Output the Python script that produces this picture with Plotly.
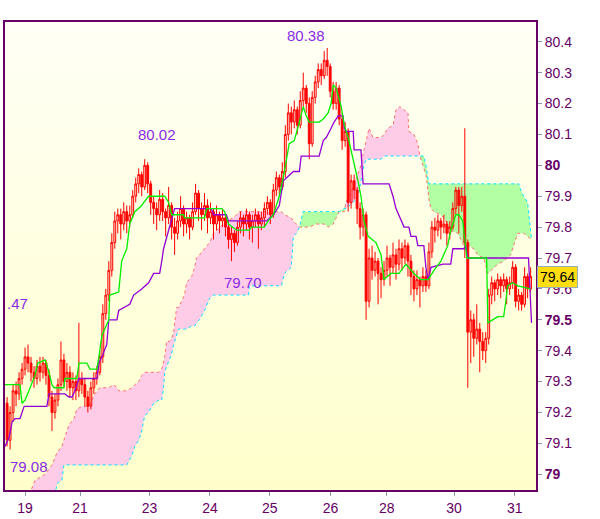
import plotly.graph_objects as go

# ---------------- price bars (one per bar index) ----------------
opens = [79.23,79.11,79.20,79.27,79.26,79.31,79.34,79.38,79.36,79.33,
         79.31,79.35,79.33,79.36,79.32,79.25,79.20,79.24,79.29,79.37,
         79.30,79.33,79.28,79.30,79.27,79.31,79.29,79.25,79.22,79.28,
         79.31,79.33,79.38,79.52,79.58,79.66,79.75,79.82,79.84,79.81,
         79.85,79.82,79.84,79.90,79.94,79.97,79.93,80.00,79.94,79.88,
         79.86,79.84,79.89,79.85,79.83,79.87,79.80,79.78,79.82,79.86,
         79.81,79.83,79.80,79.85,79.91,79.86,79.84,79.87,79.83,79.85,
         79.81,79.84,79.82,79.83,79.80,79.76,79.78,79.75,79.80,79.83,
         79.81,79.84,79.80,79.82,79.84,79.81,79.83,79.86,79.88,79.84,
         79.92,79.96,79.93,79.98,80.10,80.17,80.14,80.18,80.13,80.21,
         80.25,80.20,80.07,80.22,80.27,80.31,80.29,80.34,80.32,80.24,
         80.20,80.25,80.15,80.08,80.11,79.88,79.95,79.92,79.86,79.80,
         79.84,79.56,79.70,79.66,79.69,79.65,79.63,79.66,79.70,79.67,
         79.71,79.68,79.73,79.70,79.74,79.69,79.64,79.60,79.63,79.61,
         79.64,79.61,79.72,79.80,79.79,79.82,79.80,79.81,79.78,79.80,
         79.86,79.92,79.87,79.90,79.75,79.46,79.50,79.44,79.47,79.43,
         79.40,79.44,79.58,79.62,79.60,79.63,79.61,79.63,79.60,79.62,
         79.67,79.56,79.58,79.55,79.64,79.60]
highs = [79.25,79.22,79.29,79.30,79.33,79.36,79.41,79.42,79.38,79.35,
         79.37,79.38,79.38,79.37,79.34,79.27,79.26,79.31,79.43,79.39,
         79.36,79.35,79.33,79.32,79.49,79.33,79.31,79.27,79.30,79.33,
         79.35,79.40,79.55,79.60,79.69,79.78,79.85,79.86,79.86,79.88,
         79.87,79.87,79.92,79.96,79.99,79.98,80.02,80.01,79.95,79.90,
         79.88,79.92,79.91,79.86,79.93,79.88,79.83,79.85,79.90,79.87,
         79.85,79.84,79.88,79.94,79.92,79.88,79.91,79.89,79.88,79.86,
         79.87,79.85,79.86,79.84,79.82,79.80,79.79,79.82,79.85,79.84,
         79.86,79.85,79.84,79.86,79.85,79.85,79.88,79.90,79.89,79.94,
         79.98,79.97,80.01,80.13,80.20,80.19,80.21,80.19,80.24,80.30,
         80.26,80.22,80.24,80.29,80.33,80.33,80.37,80.38,80.33,80.27,
         80.27,80.26,80.17,80.14,80.12,79.97,79.97,79.93,79.88,79.86,
         79.85,79.73,79.74,79.72,79.70,79.67,79.69,79.74,79.71,79.75,
         79.73,79.76,79.75,79.76,79.75,79.71,79.66,79.66,79.64,79.67,
         79.66,79.75,79.82,79.83,79.84,79.83,79.84,79.82,79.82,79.88,
         79.93,79.93,79.93,80.12,79.76,79.53,79.52,79.55,79.49,79.46,
         79.46,79.60,79.64,79.63,79.65,79.64,79.65,79.64,79.64,79.69,
         79.68,79.60,79.59,79.67,79.65,79.67]
lows = [79.09,79.08,79.17,79.22,79.24,79.29,79.32,79.33,79.30,79.28,
        79.29,79.30,79.31,79.29,79.22,79.14,79.18,79.22,79.27,79.28,
        79.27,79.25,79.24,79.24,79.25,79.26,79.22,79.20,79.21,79.26,
        79.29,79.32,79.36,79.50,79.56,79.64,79.73,79.78,79.76,79.79,
        79.78,79.80,79.83,79.88,79.91,79.90,79.92,79.91,79.84,79.81,
        79.79,79.82,79.82,79.77,79.81,79.76,79.71,79.76,79.80,79.77,
        79.78,79.76,79.79,79.84,79.82,79.79,79.82,79.78,79.81,79.76,
        79.79,79.78,79.80,79.77,79.73,79.69,79.72,79.74,79.78,79.77,
        79.79,79.76,79.75,79.80,79.73,79.79,79.80,79.84,79.81,79.83,
        79.90,79.90,79.92,79.96,80.08,80.10,80.12,80.10,80.12,80.19,
        80.17,80.02,80.06,80.20,80.25,80.26,80.28,80.29,80.22,80.18,
        80.18,80.13,80.05,80.06,79.85,79.86,79.89,79.81,79.76,79.77,
        79.50,79.54,79.63,79.64,79.55,79.57,79.61,79.64,79.61,79.65,
        79.63,79.66,79.66,79.68,79.64,79.58,79.56,79.58,79.54,79.59,
        79.59,79.60,79.70,79.75,79.77,79.76,79.78,79.74,79.76,79.79,
        79.84,79.78,79.85,79.70,79.28,79.36,79.38,79.42,79.33,79.37,
        79.36,79.42,79.55,79.56,79.58,79.57,79.59,79.55,79.58,79.60,
        79.54,79.53,79.53,79.54,79.57,79.59]
closes = [79.11,79.20,79.27,79.26,79.31,79.34,79.38,79.36,79.33,79.31,
          79.35,79.33,79.36,79.32,79.25,79.20,79.24,79.29,79.37,79.30,
          79.33,79.28,79.30,79.27,79.31,79.29,79.25,79.22,79.28,79.31,
          79.33,79.38,79.52,79.58,79.66,79.75,79.82,79.84,79.81,79.85,
          79.82,79.84,79.90,79.94,79.97,79.93,80.00,79.94,79.88,79.86,
          79.84,79.89,79.85,79.83,79.87,79.80,79.78,79.82,79.86,79.81,
          79.83,79.80,79.85,79.91,79.86,79.84,79.87,79.83,79.85,79.81,
          79.84,79.82,79.83,79.80,79.76,79.78,79.75,79.80,79.83,79.81,
          79.84,79.80,79.82,79.84,79.81,79.83,79.86,79.88,79.84,79.92,
          79.96,79.93,79.98,80.10,80.17,80.14,80.18,80.13,80.21,80.25,
          80.20,80.07,80.22,80.27,80.31,80.29,80.34,80.32,80.24,80.20,
          80.25,80.15,80.08,80.11,79.88,79.95,79.92,79.86,79.80,79.84,
          79.56,79.70,79.66,79.69,79.65,79.63,79.66,79.70,79.67,79.71,
          79.68,79.73,79.70,79.74,79.69,79.64,79.60,79.63,79.61,79.64,
          79.61,79.72,79.80,79.79,79.82,79.80,79.81,79.78,79.80,79.86,
          79.92,79.87,79.90,79.75,79.46,79.50,79.44,79.47,79.43,79.40,
          79.44,79.58,79.62,79.60,79.63,79.61,79.63,79.60,79.62,79.67,
          79.56,79.58,79.55,79.64,79.60,79.64]
bars = list(range(len(closes)))

# ---------------- Ichimoku lines (knots in bar-index units) ----------------
tenkan_x = [-0.7,4.3,5,6,7.7,9.3,10.3,12.7,14,15,15.7,19,19.3,23.3,24,26.7,27.7,30,30.7,31.7,
            34,34.3,37.3,38.3,40,41,42.7,45,45.7,47.3,52.7,54,55,59,59.3,66,66.7,71.7,72.7,74,
            76.7,81,81.7,86,87.3,89,91,92.7,94.3,96,97.7,99,100,101,104.3,105.7,107.3,108.3,109,110,
            111.7,112.7,114,115.7,117.3,118.3,119.3,120.7,123.3,125,126,128.3,131,133.3,135,136,138.3,140.7,142.7,145,
            147.3,148.3,150,151,152.3,152.7,153.7,160.3,160.7,164,166,166.7,167.3,169,170.7,175]
tenkan_y = [79.29,79.29,79.23,79.24,79.28,79.32,79.36,79.37,79.33,79.29,79.28,79.28,79.31,79.31,79.36,79.36,79.34,79.34,79.38,79.45,
            79.50,79.58,79.59,79.69,79.73,79.81,79.85,79.87,79.88,79.90,79.90,79.88,79.84,79.84,79.83,79.83,79.86,79.86,79.85,79.81,
            79.79,79.79,79.80,79.80,79.82,79.84,79.90,79.98,80.07,80.08,80.14,80.19,80.16,80.14,80.14,80.15,80.17,80.20,80.26,80.25,
            80.19,80.13,80.09,80.02,79.95,79.90,79.82,79.77,79.75,79.71,79.63,79.65,79.65,79.68,79.66,79.65,79.63,79.63,79.66,79.69,
            79.74,79.79,79.84,79.84,79.82,79.78,79.70,79.70,79.49,79.51,79.51,79.56,79.61,79.62,79.61,79.60]

kijun_x = [-0.7,0.7,1.7,2.7,4.3,5.7,13.3,14,19.3,20.7,21.7,22.7,24,30,30.7,31.7,33.3,34,36.7,37.3,
           41,42.3,45,47.3,49,51,51.7,52.3,54,55,56,68.3,69,73.3,74,86.7,87.7,89,91,92.3,
           95.7,97.7,98.3,104.3,105.7,106.7,108.3,109.3,110.7,112.3,112.7,113.3,115.7,116,118.3,119,127.7,129,130,131.7,
           132.7,134.3,135,136.7,137.3,139.3,140,140.7,141.7,145.7,148.3,149,152.7,153.3,154,174.3,175,175.3]
kijun_y = [79.09,79.12,79.17,79.18,79.18,79.22,79.22,79.26,79.26,79.25,79.25,79.27,79.31,79.31,79.36,79.38,79.42,79.50,79.50,79.53,
           79.55,79.58,79.60,79.62,79.65,79.65,79.69,79.73,79.79,79.83,79.86,79.86,79.84,79.84,79.82,79.82,79.83,79.84,79.87,79.95,
           79.98,79.98,80.03,80.03,80.08,80.09,80.12,80.14,80.16,80.16,80.12,80.11,80.11,80.05,80.05,79.94,79.94,79.90,79.86,79.82,
           79.80,79.80,79.77,79.77,79.74,79.74,79.67,79.63,79.67,79.68,79.68,79.73,79.73,79.74,79.70,79.70,79.54,79.49]

cloud_x = [-0.7,7.7,9.3,12.7,15,16.7,18.3,19,20.7,22.3,23.3,25,27.3,29.3,31,34,35.7,36.7,37.3,40,
           41.7,42.7,44,45,46,47.3,49,50.7,51.7,52.3,52.7,53.3,54.3,55,55.7,56,56.7,57.3,59.3,60,
           61.7,62.7,63.3,64.3,66,67.7,69,71,73.3,75.7,77.7,80.7,81,86.7,91.7,92.7,95,95.7,96.7,97.7,
           99,101,103.3,106,107.3,109,110,111,112.7,113.3,115.7,117.3,118.3,119.3,120,121,122.3,125,126,127.3,
           129,130,131.3,132.7,134,134.3,136,137.3,138,138.7,139.3,140,140.7,141,141.7,142.7,145,146,147.3,147.7,
           150.7,152.7,154,156,157.3,159.3,160.7,161.7,164,166,168.3,169.3,170.7,171,171.7,172.7,174,175,175.3]
span_a = [78.92,78.94,78.98,79.00,79.03,79.07,79.09,79.11,79.16,79.18,79.21,79.22,79.22,79.26,79.28,79.28,79.29,79.28,79.27,79.27,
          79.28,79.29,79.30,79.32,79.33,79.33,79.33,79.33,79.34,79.36,79.38,79.43,79.43,79.44,79.46,79.49,79.54,79.54,79.58,79.62,
          79.64,79.67,79.70,79.71,79.73,79.75,79.78,79.80,79.82,79.83,79.85,79.85,79.85,79.85,79.85,79.84,79.83,79.82,79.81,79.80,
          79.80,79.80,79.81,79.81,79.80,79.81,79.83,79.85,79.85,79.88,79.93,79.97,80.00,80.05,80.08,80.12,80.09,80.09,80.10,80.12,
          80.13,80.18,80.19,80.18,80.17,80.11,80.10,80.07,80.03,80.01,79.99,79.97,79.92,79.89,79.86,79.85,79.84,79.83,79.81,79.79,
          79.78,79.74,79.74,79.73,79.71,79.70,79.65,79.66,79.68,79.69,79.71,79.74,79.78,79.78,79.78,79.78,79.77,79.76,79.76]
span_b = [78.85,78.85,78.85,78.86,78.88,78.97,78.98,79.03,79.03,79.03,79.03,79.03,79.03,79.03,79.03,79.03,79.03,79.03,79.03,79.03,
          79.06,79.09,79.11,79.14,79.19,79.20,79.23,79.24,79.24,79.28,79.33,79.35,79.37,79.39,79.42,79.43,79.45,79.47,79.47,79.47,
          79.48,79.48,79.49,79.50,79.53,79.57,79.58,79.58,79.58,79.58,79.58,79.58,79.61,79.61,79.61,79.65,79.67,79.77,79.78,79.80,
          79.85,79.85,79.85,79.85,79.85,79.85,79.85,79.85,79.86,79.86,79.88,79.90,79.95,80.00,80.02,80.02,80.02,80.02,80.03,80.03,
          80.03,80.03,80.03,80.03,80.03,80.03,80.03,80.03,80.03,80.03,80.03,80.00,79.96,79.94,79.94,79.94,79.94,79.94,79.94,79.94,
          79.94,79.94,79.94,79.94,79.94,79.94,79.94,79.94,79.94,79.94,79.94,79.94,79.94,79.94,79.92,79.90,79.88,79.79,79.76]
cloud_top = [max(a, b) for a, b in zip(span_a, span_b)]

# ---------------- axes text ----------------
day_ticks = [6, 24.4, 47.6, 67.8, 87.8, 108.1, 126.9, 149.4, 169.7]
day_labels = ["19", "21", "23", "24", "25", "26", "28", "30", "31"]
price_ticks = [79.0, 79.1, 79.2, 79.3, 79.4, 79.5, 79.6, 79.7, 79.8, 79.9,
               80.0, 80.1, 80.2, 80.3, 80.4]
price_labels = ["<b>79</b>", "79.1", "79.2", "79.3", "79.4", "<b>79.5</b>", "79.6", "79.7",
                "79.8", "79.9", "<b>80</b>", "80.1", "80.2", "80.3", "80.4"]
last_price = "79.64"
marks = [("80.38", 100, 80.42), ("80.02", 50, 80.10), ("79.70", 79, 79.62), ("79.08", 7.3, 79.025)]

X_RANGE = [-0.7, 176.8]
Y_RANGE = [78.949, 80.464]

PURPLE = "#660066"
LBL = "#8a2be2"
FONT = "Liberation Sans, Arial, sans-serif"

fig = go.Figure()

# gradient background (main subplot)
fig.add_trace(go.Scatter(
    x=[X_RANGE[0], X_RANGE[1], X_RANGE[1], X_RANGE[0], X_RANGE[0]],
    y=[Y_RANGE[0], Y_RANGE[0], Y_RANGE[1], Y_RANGE[1], Y_RANGE[0]],
    mode="lines", line=dict(width=0), fill="toself",
    fillgradient=dict(type="vertical", colorscale=[[0, "#ffffcc"], [1, "#fffff6"]]),
    hoverinfo="skip", showlegend=False))

# cloud fills: pink where span A above span B, green where B above A
fig.add_trace(go.Scatter(x=cloud_x, y=span_b, mode="lines", line=dict(width=0),
                         hoverinfo="skip", showlegend=False))
fig.add_trace(go.Scatter(x=cloud_x, y=cloud_top, mode="lines", line=dict(width=0),
                         fill="tonexty", fillcolor="#ffcce8", hoverinfo="skip", showlegend=False))
fig.add_trace(go.Scatter(x=cloud_x, y=span_a, mode="lines", line=dict(width=0),
                         hoverinfo="skip", showlegend=False))
fig.add_trace(go.Scatter(x=cloud_x, y=cloud_top, mode="lines", line=dict(width=0),
                         fill="tonexty", fillcolor="#b3ffa3", hoverinfo="skip", showlegend=False))
fig.add_trace(go.Scatter(x=cloud_x, y=span_a, mode="lines",
                         line=dict(color="#ff6f6f", width=1, dash="3px,3px"),
                         hoverinfo="skip", showlegend=False))
fig.add_trace(go.Scatter(x=cloud_x, y=span_b, mode="lines",
                         line=dict(color="#00e0ff", width=1, dash="3px,3px"),
                         hoverinfo="skip", showlegend=False))

# candles and lines on an overlaying subplot so they sit above the cloud
fig.add_trace(go.Candlestick(
    x=bars, open=opens, high=highs, low=lows, close=closes,
    xaxis="x2", yaxis="y2",
    increasing=dict(line=dict(color="#ff0000", width=1), fillcolor="rgba(255,0,0,0.12)"),
    decreasing=dict(line=dict(color="#ff0000", width=1), fillcolor="#ff0000"),
    whiskerwidth=0, showlegend=False))
fig.add_trace(go.Scatter(x=kijun_x, y=kijun_y, mode="lines", xaxis="x2", yaxis="y2",
                         line=dict(color="#9400d3", width=1.3), showlegend=False))
fig.add_trace(go.Scatter(x=tenkan_x, y=tenkan_y, mode="lines", xaxis="x2", yaxis="y2",
                         line=dict(color="#00ee00", width=1.3), showlegend=False))

for txt, xv, yv in marks:
    fig.add_annotation(x=xv, y=yv, text=txt, showarrow=False,
                       font=dict(family=FONT, size=15, color=LBL))
fig.add_annotation(x=X_RANGE[0], y=79.553, text=".47", showarrow=False, xanchor="left",
                   font=dict(family=FONT, size=15, color=LBL))

# last price box
fig.add_annotation(xref="paper", x=1.0, xanchor="left", xshift=1, y=float(last_price),
                   text=last_price, showarrow=False, bgcolor="#ffdd11",
                   bordercolor="#99aabb", borderwidth=1, borderpad=2,
                   font=dict(family=FONT, size=14, color="#000000"))

axis_common = dict(showgrid=False, zeroline=False, showline=True, linecolor=PURPLE,
                   linewidth=2, mirror=True, ticks="outside", ticklen=4,
                   tickcolor="#8899aa", tickfont=dict(family=FONT, size=14, color=PURPLE))

fig.update_layout(
    width=600, height=519,
    margin=dict(l=3, r=64, t=22, b=23),
    paper_bgcolor="#ffffff", plot_bgcolor="#ffffcc",
    showlegend=False, boxgap=0.12,
    font=dict(family=FONT, size=14, color=PURPLE),
    xaxis=dict(range=X_RANGE, tickvals=day_ticks, ticktext=day_labels,
               rangeslider=dict(visible=False), **axis_common),
    yaxis=dict(range=Y_RANGE, side="right", tickvals=price_ticks, ticktext=price_labels,
               **axis_common),
    xaxis2=dict(range=X_RANGE, overlaying="x", visible=False,
                rangeslider=dict(visible=False)),
    yaxis2=dict(range=Y_RANGE, overlaying="y", visible=False),
)

fig.write_html("out.html", config={"displayModeBar": False},
               post_script="document.body.style.margin='0';")
